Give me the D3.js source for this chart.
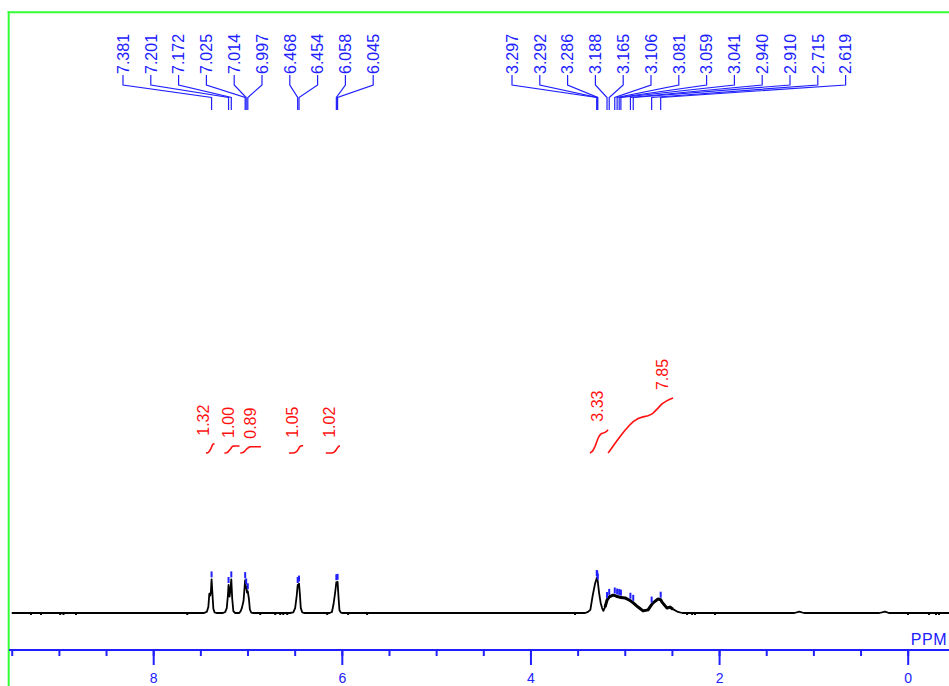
<!DOCTYPE html>
<html>
<head>
<meta charset="utf-8">
<script src="https://cdn.jsdelivr.net/npm/d3@7/dist/d3.min.js"></script>
<style>
  html, body { margin: 0; padding: 0; background: #fff; }
  svg { display: block; }
  text { font-family: "Liberation Sans", Arial, sans-serif; }
</style>
</head>
<body>
<svg id="chart" width="949" height="686"></svg>
<script>
// ---------------- DATA ----------------
// spectrum trace: [ppm, relative intensity (tallest = 100)]
const spectrum = [
  [9.5,0],[9.0,0],[8.0,0],[7.6,0],
  [7.46,0],[7.43,4],[7.415,18],[7.405,55],[7.395,50],[7.388,62],[7.381,96],[7.372,55],[7.362,12],[7.35,2],[7.33,0],
  [7.26,0],[7.236,3],[7.22,14],[7.208,50],[7.201,80],[7.19,47],[7.18,70],[7.172,96],[7.162,40],[7.15,5],[7.13,0],
  [7.09,0],[7.075,4],[7.06,14],[7.042,35],[7.025,94],[7.018,72],[7.014,76],[7.005,58],[6.997,62],[6.985,40],[6.975,10],[6.96,1],[6.94,0],
  [6.55,0],[6.515,2],[6.495,14],[6.478,50],[6.468,80],[6.461,78],[6.454,84],[6.445,55],[6.435,14],[6.42,2],[6.40,0],
  [6.13,0],[6.105,3],[6.088,25],[6.07,60],[6.058,88],[6.052,82],[6.045,89],[6.035,45],[6.025,8],[6.01,1],[5.99,0],
  [4.0,0],[3.42,0],[3.39,3],[3.365,9],[3.34,50],[3.315,84],[3.303,94],[3.297,100],[3.292,98],[3.286,90],[3.272,57],
  [3.255,28],[3.24,14],[3.227,6],[3.209,17],[3.188,37],[3.165,46],[3.124,51],[3.106,50],[3.081,47],[3.059,46],
  [3.041,44],[2.997,43],[2.94,35],[2.91,29],[2.859,17],[2.806,6],[2.753,9],[2.715,24],[2.70,29],[2.647,40],
  [2.619,38],[2.605,31],[2.552,14],[2.521,17],[2.489,11],[2.436,3],[2.39,0],
  [2.0,0],[1.2,0],[1.15,4],[1.10,0],[0.3,0],[0.24,4],[0.2,0],[-0.5,0]
];
// small baseline noise spikes (ppm)
const noiseSpikes = [9.296,9.190,8.986,8.951,8.819,7.639,6.865,6.706,6.653,6.621,6.579,6.155,5.933,5.732,
  3.527,2.339,2.286,2.255,2.043,-0.003,-0.226,-0.30,-0.332];

// peak-pick labels (ppm), two groups
const peakGroup1 = [7.381,7.201,7.172,7.025,7.014,6.997,6.468,6.454,6.058,6.045];
const peakGroup2 = [3.297,3.292,3.286,3.188,3.165,3.106,3.081,3.059,3.041,2.940,2.910,2.715,2.619];

// integrals: ranges (ppm from, to) and values
const integralRanges = [[7.44,7.35],[7.245,7.085],[7.077,6.858],[6.56,6.41],[6.17,6.02],[3.37,3.177],[3.177,2.488]];
const integralValues = [1.32,1.00,0.89,1.05,1.02,3.33,7.85];

// axis ticks
const majorTicks = [8,6,4,2,0];
const minorTicks = [9.5,9,8.5,8,7.5,7,6.5,6,5.5,5,4.5,4,3.5,3,2.5,2,1.5,1,0.5,0];
const axisTitle = "PPM";

// ---------------- DRAW ----------------
const BLUE = "#2020ff", RED = "#ff1010", GREEN = "#33ff33";
const svg = d3.select("#chart");

const x = d3.scaleLinear().domain([8, 0]).range([153.2, 907.7]);
const y = d3.scaleLinear().domain([0, 100]).range([613, 578]);
const interp = d3.scaleLinear().domain(spectrum.map(d => d[0])).range(spectrum.map(d => d[1]));
const intY = d3.scaleLinear().domain([0, 1]).range([453, 446]);

// green frame
svg.append("line").attr("x1", 8.7).attr("x2", 8.7).attr("y1", 11.3).attr("y2", 686)
  .attr("stroke", GREEN).attr("stroke-width", 2);
svg.append("line").attr("x1", 7.7).attr("x2", 949).attr("y1", 12.3).attr("y2", 12.3)
  .attr("stroke", GREEN).attr("stroke-width", 2);

// spectrum
const line = d3.line().x(d => x(d[0])).y(d => y(d[1]));
svg.append("path").datum(spectrum).attr("d", line)
  .attr("fill", "none").attr("stroke", "#000").attr("stroke-width", 1.8).attr("stroke-linejoin", "round");
svg.append("path").datum(spectrum.filter(d => d[0] <= 3.21 && d[0] >= 2.45)).attr("d", line)
  .attr("fill", "none").attr("stroke", "#000").attr("stroke-width", 3).attr("stroke-linejoin", "round");

// noise spikes
svg.append("g").selectAll("rect").data(noiseSpikes).join("rect")
  .attr("x", d => x(d) - 1).attr("y", y(0)).attr("width", 2).attr("height", 2).attr("fill", "#000");

// peak markers + labels + leaders
const fmt = d3.format(".3f");
function drawGroup(peaks, startX, pitch) {
  const g = svg.append("g");
  peaks.forEach((p, i) => {
    const lx = startX + i * pitch;
    const px = x(p);
    g.append("path")
      .attr("d", `M${lx},75V85L${px},97.5V110`)
      .attr("fill", "none").attr("stroke", BLUE).attr("stroke-width", 1.2);
    g.append("text")
      .attr("transform", `translate(${lx},74) rotate(-90)`)
      .attr("dy", "0.36em").attr("text-anchor", "start")
      .attr("font-size", 16).attr("fill", BLUE)
      .text(fmt(p));
    const top = y(interp(p));
    g.append("line").attr("x1", px).attr("x2", px).attr("y1", top - 8).attr("y2", top - 2)
      .attr("stroke", BLUE).attr("stroke-width", 2);
  });
}
drawGroup(peakGroup1, 123, 27.8);
drawGroup(peakGroup2, 512, 27.8);

// integrals
integralRanges.forEach((r, k) => {
  const [a, b] = r;
  const pts = [a].concat(spectrum.map(d => d[0]).filter(p => p < a && p > b)).concat([b]);
  let cum = 0;
  const cums = [0];
  for (let i = 1; i < pts.length; i++) {
    cum += (pts[i - 1] - pts[i]) * (interp(pts[i - 1]) + interp(pts[i])) / 2;
    cums.push(cum);
  }
  const val = integralValues[k];
  const curve = pts.map((p, i) => [p, cums[i] / cum * val]);
  svg.append("path").datum(curve)
    .attr("d", d3.line().x(d => x(d[0])).y(d => intY(d[1])))
    .attr("fill", "none").attr("stroke", RED).attr("stroke-width", 1.6);
  const ex = x(b), ey = intY(val);
  svg.append("text")
    .attr("transform", `translate(${ex - 11},${ey - 8}) rotate(-90)`)
    .attr("dy", "0.36em").attr("text-anchor", "start")
    .attr("font-size", 16).attr("fill", RED)
    .text(d3.format(".2f")(val));
});

// axis
const axisY = 650;
svg.append("line").attr("x1", 9).attr("x2", 949).attr("y1", axisY).attr("y2", axisY)
  .attr("stroke", BLUE).attr("stroke-width", 2);
const gMinor = svg.append("g").attr("transform", `translate(0,${axisY})`)
  .call(d3.axisBottom(x).tickValues(minorTicks).tickSize(6).tickFormat(""));
const gMajor = svg.append("g").attr("transform", `translate(0,${axisY})`)
  .call(d3.axisBottom(x).tickValues(majorTicks).tickSize(15).tickPadding(8).tickFormat(d3.format("d")));
[gMinor, gMajor].forEach(g => {
  g.select(".domain").remove();
  g.selectAll(".tick line").attr("stroke", BLUE).attr("stroke-width", 2);
  g.selectAll(".tick text").attr("fill", BLUE).attr("font-size", 14)
    .attr("font-family", '"Liberation Sans", Arial, sans-serif');
});
svg.append("text").attr("x", 947).attr("y", 645).attr("text-anchor", "end")
  .attr("font-size", 16).attr("fill", BLUE).attr("letter-spacing", 0.5).text(axisTitle);
</script>
</body>
</html>
